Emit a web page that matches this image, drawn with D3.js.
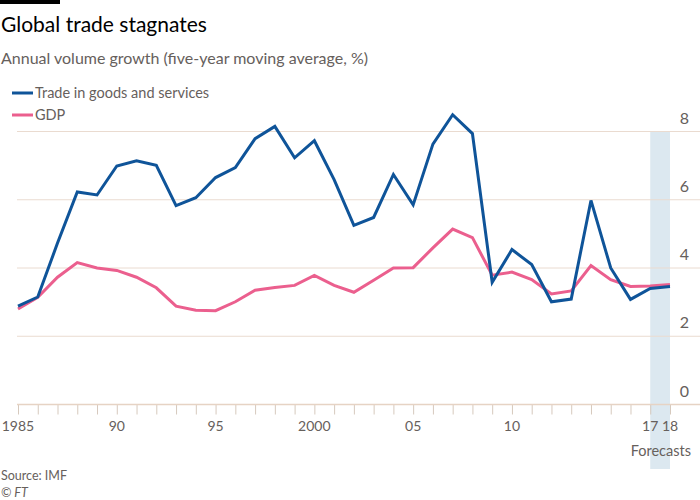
<!DOCTYPE html>
<html><head><meta charset="utf-8">
<script src="https://cdn.jsdelivr.net/npm/d3@7"></script>
<style>
body{margin:0;background:#fff;}
svg text{font-family:"Lato",sans-serif;}
</style></head>
<body><svg id="c" width="700" height="500"></svg>
<script>
const years = d3.range(1985, 2019);
const trade = [2.88,3.15,4.73,6.23,6.14,6.99,7.14,7.01,5.83,6.06,6.65,6.94,7.79,8.15,7.23,7.73,6.59,5.25,5.48,6.74,5.85,7.63,8.49,7.94,3.58,4.54,4.10,3.01,3.09,5.98,4.00,3.08,3.40,3.46];
const gdp = [2.80,3.14,3.73,4.16,4.00,3.93,3.73,3.42,2.88,2.76,2.75,3.01,3.35,3.43,3.49,3.78,3.49,3.29,3.64,4.00,4.01,4.59,5.14,4.89,3.79,3.88,3.66,3.24,3.33,4.07,3.66,3.46,3.47,3.52];
const yTicks = [0,2,4,6,8];
const xLabels = [[1985,"1985"],[1990,"90"],[1995,"95"],[2000,"2000"],[2005,"05"],[2010,"10"],[2017,"17"],[2018,"18"]];
const seriesNames = ["Trade in goods and services","GDP"];
const colors = ["#0f5499","#eb5f8e"];
const forecastStart = 2017, forecastEnd = 2018;

const svg = d3.select("#c");
const x = d3.scaleLinear().domain([1985,2018]).range([18,670]);
const y = d3.scaleLinear().domain([0,8]).range([404.5,131.5]);

svg.append("rect").attr("x",0).attr("y",0).attr("width",60).attr("height",4).attr("fill","#000");
svg.append("text").attr("x",1).attr("y",32).attr("font-size",21).attr("fill","#000").text("Global trade stagnates");
svg.append("text").attr("x",1).attr("y",64).attr("font-size",16).attr("fill","#66605c").text("Annual volume growth (five-year moving average, %)");

seriesNames.forEach((n,i)=>{
  const ly = 93 + i*22;
  svg.append("line").attr("x1",12).attr("x2",33).attr("y1",ly).attr("y2",ly).attr("stroke",colors[i]).attr("stroke-width",3);
  svg.append("text").attr("x",35).attr("y",ly+5).attr("font-size",14.5).attr("fill","#66605c").text(n);
});

svg.append("rect").attr("x",x(forecastStart)).attr("width",x(forecastEnd)-x(forecastStart))
  .attr("y",y(8)).attr("height",469-y(8)).attr("fill","#dce8f0");

svg.append("g").selectAll("line").data(yTicks.filter(d=>d>0)).join("line")
  .attr("x1",17).attr("x2",700).attr("y1",d=>y(d)).attr("y2",d=>y(d))
  .attr("stroke","#eadbd0").attr("stroke-width",1);

svg.append("g").selectAll("text").data(yTicks).join("text")
  .attr("x",689).attr("y",d=>y(d)-8).attr("text-anchor","end")
  .attr("font-size",16).attr("fill","#66605c").text(d=>d);

const xAxis = d3.axisBottom(x).tickValues(years).tickSize(10).tickFormat("");
const gx = svg.append("g").attr("transform",`translate(0,${y(0)})`).call(xAxis);
gx.select(".domain").remove();
gx.selectAll(".tick line").attr("stroke","#d6c9bd");
svg.append("line").attr("x1",17).attr("x2",700).attr("y1",y(0)).attr("y2",y(0)).attr("stroke","#e6d3c4").attr("stroke-width",1.5);
svg.append("g").selectAll("text").data(xLabels).join("text")
  .attr("x",d=>x(d[0])).attr("y",431).attr("text-anchor","middle")
  .attr("font-size",14).attr("fill","#66605c").text(d=>d[1]);
svg.append("text").attr("x",691).attr("y",456).attr("text-anchor","end").attr("font-size",14.5).attr("fill","#66605c").text("Forecasts");

const line = d3.line().x((d,i)=>x(years[i])).y(d=>y(d));
[gdp,trade].forEach((s,k)=>{
  svg.append("path").datum(s).attr("d",line).attr("fill","none")
    .attr("stroke",k===0?colors[1]:colors[0]).attr("stroke-width",3).attr("stroke-linejoin","miter");
});

svg.append("text").attr("x",1).attr("y",480).attr("font-size",12.5).attr("fill","#66605c").text("Source: IMF");
svg.append("text").attr("x",1).attr("y",497).attr("font-size",12.5).attr("font-style","italic").attr("fill","#66605c").text("© FT");
</script></body></html>
